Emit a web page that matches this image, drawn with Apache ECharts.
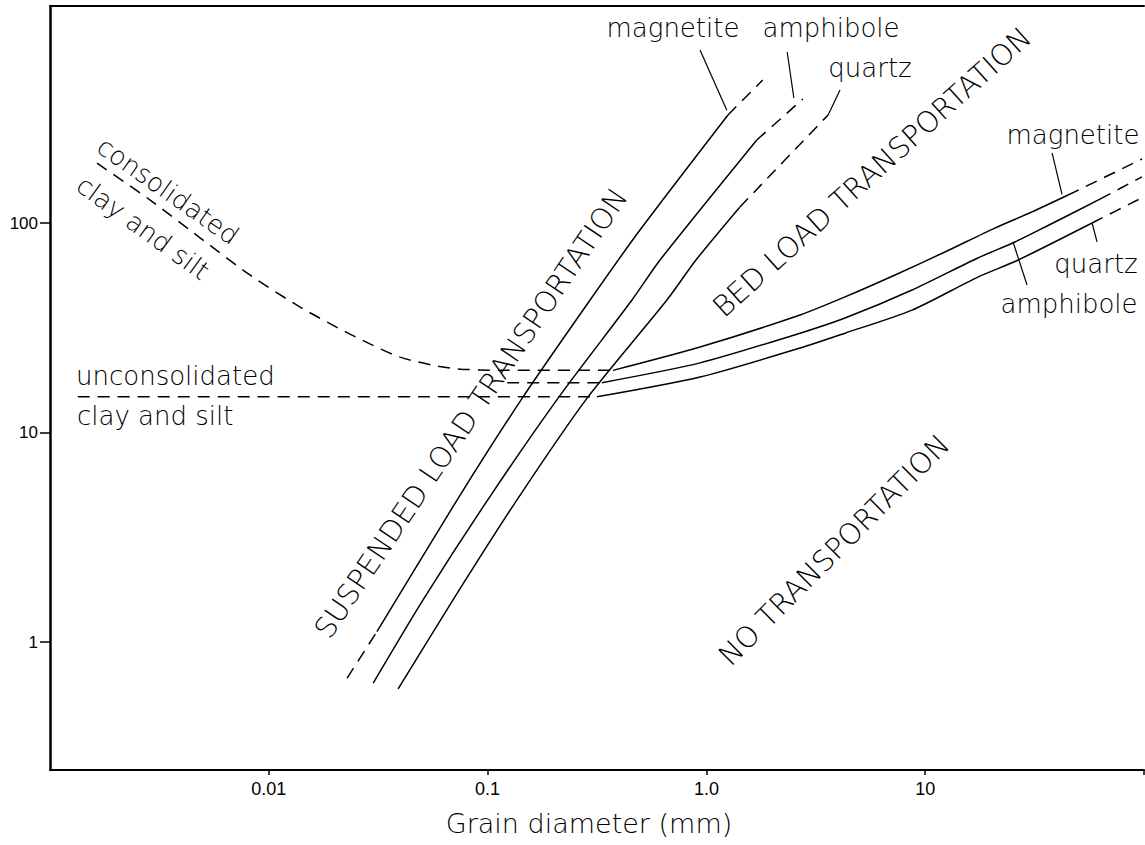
<!DOCTYPE html>
<html>
<head>
<meta charset="utf-8">
<script src="https://cdn.jsdelivr.net/npm/echarts@6/dist/echarts.min.js"></script>
<style>html,body{margin:0;padding:0;background:#fff}#c{width:1145px;height:845px}</style>
</head>
<body>
<div id="c"></div>
<script>
// ---- axis ticks ----
const xTickValues = [0.01, 0.1, 1, 10, 100];
const xTickLabels = ['0.01', '0.1', '1.0', '10', ''];
const yTickValues = [1, 10, 100];
const yTickLabels = ['1', '10', '100'];

// ---- suspended-load boundaries (grain diameter mm, velocity) ----
const suspMagnetiteLowerDash = [[0.0228, 0.673], [0.0312, 1.12]];
const suspMagnetiteSolid = [[0.0312, 1.12], [0.0725, 4.76], [0.144, 14.6], [0.294, 42.9], [0.497, 92.6], [1.255, 328]];
const suspMagnetiteUpperDash = [[1.255, 328], [1.81, 482]];
const suspAmphiboleSolid = [[0.0300, 0.637], [0.0507, 1.59], [0.100, 4.76], [0.210, 14.6], [0.457, 42.9], [0.614, 66.6], [1.70, 249]];
const suspAmphiboleUpperDash = [[1.70, 249], [2.76, 391]];
const suspQuartzSolid = [[0.0390, 0.597], [0.0695, 1.59], [0.136, 4.76], [0.285, 14.6], [0.660, 42.9], [0.896, 66.6], [1.42, 119]];
const suspQuartzUpperDash = [[1.42, 119], [3.60, 328]];

// ---- erosion / bed-load boundaries ----
const consolidatedClay = [[0.00164, 193], [0.00286, 129], [0.00485, 85], [0.0082, 56.5], [0.0139, 39.7], [0.0235, 29.5], [0.0398, 22.9], [0.0673, 20.3], [0.114, 19.8], [0.374, 19.8]];
const unconsolidatedClay = [[0.00134, 14.8], [0.316, 14.8]];
const bedAmphiboleFineDash = [[0.123, 17.3], [0.333, 17.3]];
const bedMagnetiteSolid = [[0.374, 19.8], [0.935, 25.6], [2.68, 36.4], [4.30, 44.4], [7.28, 56.5], [12.3, 72.7], [20.8, 94.6], [30.8, 113], [45.0, 136]];
const bedMagnetiteDash = [[45.0, 136], [97.9, 202]];
const bedAmphiboleSolid = [[0.333, 17.3], [0.935, 21.5], [2.68, 29.8], [4.30, 35.2], [8.71, 47.9], [17.4, 68.1], [25.7, 81.2], [35.3, 95.7], [62.9, 130]];
const bedAmphiboleDash = [[62.9, 130], [97.9, 166]];
const bedQuartzSolid = [[0.316, 14.8], [0.935, 18.4], [2.68, 25.3], [4.30, 29.8], [8.71, 38.4], [17.4, 55.2], [26.6, 66.6], [57.9, 100]];
const bedQuartzDash = [[57.9, 100], [97.9, 132]];

// ---- label leader lines ----
const leaderSuspMagnetite = [[0.935, 670], [1.24, 345]];
const leaderSuspAmphibole = [[2.34, 655], [2.51, 395]];
const leaderSuspQuartz = [[4.08, 431], [3.60, 328]];
const leaderBedMagnetite = [[38.0, 216], [42.2, 137]];
const leaderBedAmphibole = [[25.2, 81.2], [29.2, 50.6]];
const leaderBedQuartz = [[57.9, 100], [61.0, 81.2]];

function tickFormatter(values, labels) {
  return function (v) {
    for (let i = 0; i < values.length; i++) {
      if (Math.abs(Math.log10(v) - Math.log10(values[i])) < 1e-6) return labels[i];
    }
    return '';
  };
}

const DASH = [12, 8];
function line(name, data, dashed, width) {
  return {
    name: name, type: 'line', data: data, symbol: 'none', smooth: 0.25,
    silent: true, animation: false,
    lineStyle: { color: '#000', width: width || 1.5, type: dashed ? DASH : 'solid' }
  };
}

const LABEL_FONT = 'DejaVu Sans';
function txt(text, x, y, size, rotDeg, align) {
  return {
    type: 'text', x: x, y: y, rotation: (rotDeg || 0) * Math.PI / 180, silent: true, z: 100,
    style: { text: text, fontSize: size, fontFamily: LABEL_FONT, fontWeight: 300, fill: '#000',
             align: align || 'center', verticalAlign: 'middle' }
  };
}

const chart = echarts.init(document.getElementById('c'), null, { renderer: 'svg' });
chart.setOption({
  backgroundColor: '#fff',
  animation: false,
  grid: { left: 50, right: 1, top: 6, bottom: 75, containLabel: false, outerBoundsMode: 'none' },
  xAxis: [{
    type: 'log', logBase: 10, min: 0.001, max: 100, position: 'bottom',
    axisLine: { show: true, lineStyle: { color: '#000', width: 2 } },
    axisTick: { show: true, length: 5, lineStyle: { color: '#000', width: 1.5 }, customValues: xTickValues },
    axisLabel: { customValues: xTickValues, formatter: tickFormatter(xTickValues, xTickLabels), margin: 10,
                 fontSize: 18, fontFamily: 'Liberation Sans', color: '#000' },
    splitLine: { show: false }, minorTick: { show: false }
  }, {
    type: 'log', logBase: 10, min: 0.001, max: 100, position: 'top',
    axisLine: { show: true, lineStyle: { color: '#000', width: 2 } },
    axisTick: { show: false }, axisLabel: { show: false }, splitLine: { show: false }
  }],
  yAxis: {
    type: 'log', logBase: 10, min: 0.245, max: 1086,
    axisLine: { show: true, lineStyle: { color: '#000', width: 2.5 } },
    axisTick: { show: true, length: 10, lineStyle: { color: '#000', width: 1.5 }, customValues: yTickValues },
    axisLabel: { customValues: yTickValues, formatter: tickFormatter(yTickValues, yTickLabels), margin: 12,
                 fontSize: 17, fontFamily: 'Liberation Sans', color: '#000' },
    splitLine: { show: false }, minorTick: { show: false }
  },
  series: [
    line('suspMagnetiteLowerDash', suspMagnetiteLowerDash, true),
    line('suspMagnetiteSolid', suspMagnetiteSolid, false),
    line('suspMagnetiteUpperDash', suspMagnetiteUpperDash, true),
    line('suspAmphiboleSolid', suspAmphiboleSolid, false),
    line('suspAmphiboleUpperDash', suspAmphiboleUpperDash, true),
    line('suspQuartzSolid', suspQuartzSolid, false),
    line('suspQuartzUpperDash', suspQuartzUpperDash, true),
    line('consolidatedClay', consolidatedClay, true),
    line('unconsolidatedClay', unconsolidatedClay, true),
    line('bedAmphiboleFineDash', bedAmphiboleFineDash, true),
    line('bedMagnetiteSolid', bedMagnetiteSolid, false),
    line('bedMagnetiteDash', bedMagnetiteDash, true),
    line('bedAmphiboleSolid', bedAmphiboleSolid, false),
    line('bedAmphiboleDash', bedAmphiboleDash, true),
    line('bedQuartzSolid', bedQuartzSolid, false),
    line('bedQuartzDash', bedQuartzDash, true),
    line('leaderSuspMagnetite', leaderSuspMagnetite, false, 1.2),
    line('leaderSuspAmphibole', leaderSuspAmphibole, false, 1.2),
    line('leaderSuspQuartz', leaderSuspQuartz, false, 1.2),
    line('leaderBedMagnetite', leaderBedMagnetite, false, 1.2),
    line('leaderBedAmphibole', leaderBedAmphibole, false, 1.2),
    line('leaderBedQuartz', leaderBedQuartz, false, 1.2)
  ],
  graphic: [
    txt('consolidated', 168, 191, 26, -35),
    txt('clay and silt', 143, 228, 26, -36),
    txt('unconsolidated', 76, 376, 26, 0, 'left'),
    txt('clay and silt', 77, 416, 26, 0, 'left'),
    txt('magnetite', 673, 28, 26),
    txt('amphibole', 831, 28, 26),
    txt('quartz', 870, 68, 26),
    txt('magnetite', 1073, 135, 26),
    txt('quartz', 1096, 264, 26),
    txt('amphibole', 1069, 304, 26),
    txt('SUSPENDED LOAD TRANSPORTATION', 471, 413, 29, 56),
    txt('BED LOAD TRANSPORTATION', 872, 172, 29, 42),
    txt('NO TRANSPORTATION', 834, 550, 29, 45),
    txt('Grain diameter (mm)', 589, 823, 27)
  ]
});
</script>
</body>
</html>
